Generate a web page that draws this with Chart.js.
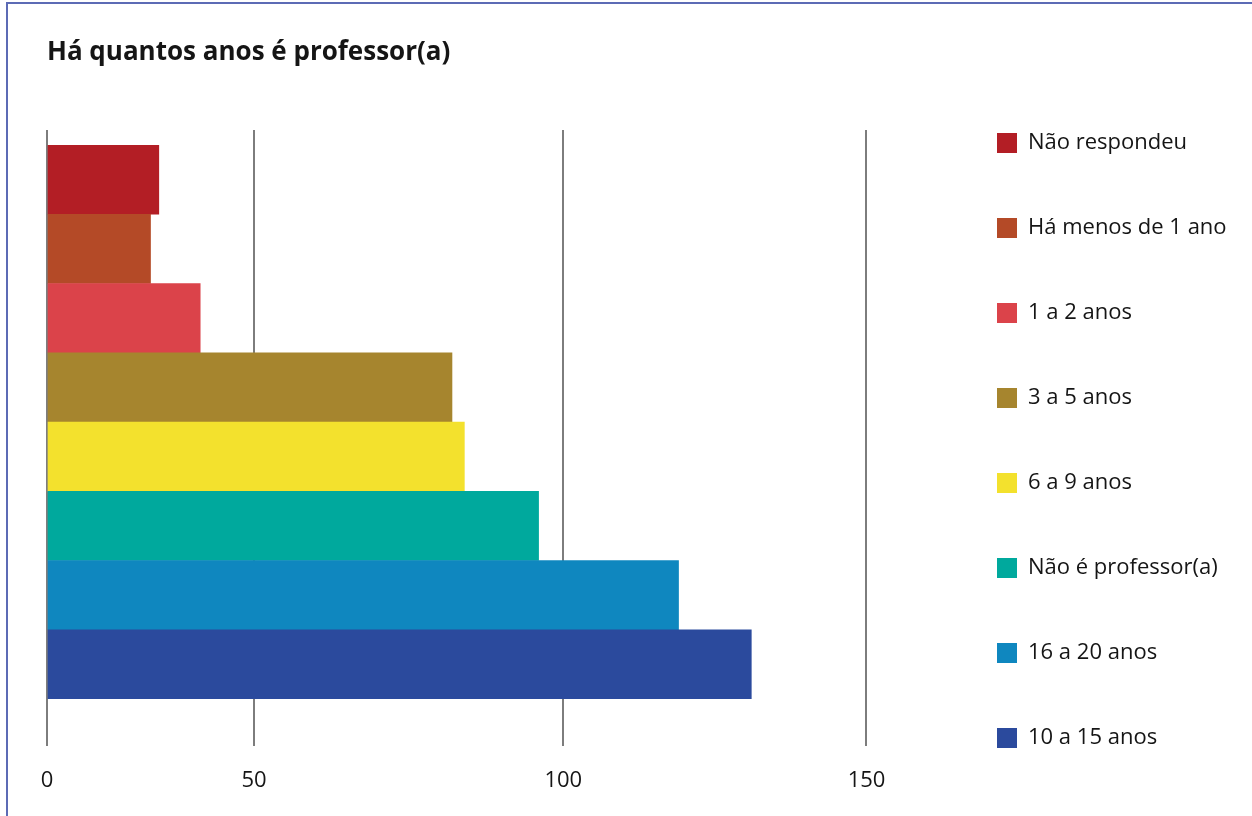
<!DOCTYPE html>
<html lang="pt">
<head>
<meta charset="utf-8">
<title>Há quantos anos é professor(a)</title>
<script src="https://cdn.jsdelivr.net/npm/chart.js@4.4.1/dist/chart.umd.min.js"></script>
<style>
    html, body {
        margin: 0;
        padding: 0;
        overflow: hidden;
        background: #fff;
    }

    .frame {
        position: absolute;
        left: 6px;
        top: 2px;
        width: 1300px;
        height: 900px;
        border: 2px solid #5c6bb5;
    }

    .chart-box {
        position: absolute;
        left: 0;
        top: 0;
        width: 1252px;
        height: 816px;
    }
</style>
</head>
<body>
<div class="frame"></div>
<div class="chart-box"><canvas id="years-chart"></canvas></div>
<script>
const categories = [
    'Não respondeu',
    'Há menos de 1 ano',
    '1 a 2 anos',
    '3 a 5 anos',
    '6 a 9 anos',
    'Não é professor(a)',
    '16 a 20 anos',
    '10 a 15 anos',
];
const counts = [27, 25, 37, 82, 84, 96, 119, 131];
const barColors = ['#b31e25', '#b44a27', '#db434a', '#a6852e', '#f3e12d', '#00a99d', '#0f87bf', '#2b4a9d'];
const tickValues = [0, 50, 100, 150];

// the original axis is not evenly spaced: value -> fraction of the plot width
const axisStops = [[0, 0], [50, 0.2334], [100, 0.5821], [150, 0.9239], [161, 1]];
const axisMax = 161;

const FONT = '"Open Sans", sans-serif';
const GRID_COLOR = '#7d7d7d';
const TEXT_COLOR = '#151515';
const LEGEND_WIDTH = 318;

class StretchedScale extends Chart.LinearScale {
    getPixelForValue(value) {
        const last = axisStops[axisStops.length - 1];
        let frac = last[1];

        if (value <= axisStops[0][0]) {
            frac = axisStops[0][1];
        } else {
            for (let i = 1; i < axisStops.length; i++) {
                const [v0, f0] = axisStops[i - 1];
                const [v1, f1] = axisStops[i];
                if (value <= v1) {
                    frac = f0 + (value - v0) / (v1 - v0) * (f1 - f0);
                    break;
                }
            }
        }

        return this.getPixelForDecimal(frac);
    }

    getValueForPixel(pixel) {
        const frac = this.getDecimalForPixel(pixel);
        for (let i = 1; i < axisStops.length; i++) {
            const [v0, f0] = axisStops[i - 1];
            const [v1, f1] = axisStops[i];
            if (frac <= f1) {
                return v0 + (frac - f0) / (f1 - f0) * (v1 - v0);
            }
        }
        return axisStops[axisStops.length - 1][0];
    }
}
StretchedScale.id = 'stretched';
StretchedScale.defaults = {};
Chart.register(StretchedScale);

// keep the legend column a fixed width so the plot ends where the original does
const fixedLegendWidth = {
    id: 'fixedLegendWidth',
    beforeUpdate(chart) {
        const legend = chart.legend;
        if (!legend || legend._fixedWidth) {
            return;
        }
        const fit = legend.fit;
        legend.fit = function () {
            fit.call(this);
            this.width = LEGEND_WIDTH;
        };
        legend._fixedWidth = true;
    },
};

function setTicks(scale) {
    scale.ticks = tickValues.map((value) => ({ value }));
}

function createYearsChart(canvas) {
    return new Chart(canvas, {
        type: 'bar',
        data: {
            labels: categories,
            datasets: [
                {
                    data: counts,
                    backgroundColor: barColors,
                    borderWidth: 0,
                    barPercentage: 1,
                    categoryPercentage: 1,
                    xAxisID: 'x',
                    yAxisID: 'y',
                },
            ],
        },
        plugins: [fixedLegendWidth],
        options: {
            indexAxis: 'y',
            responsive: true,
            maintainAspectRatio: false,
            animation: false,
            layout: {
                padding: { left: 47, right: 0, top: 0, bottom: 0 },
            },
            plugins: {
                title: {
                    display: true,
                    text: 'Há quantos anos é professor(a)',
                    align: 'start',
                    color: TEXT_COLOR,
                    font: { family: FONT, size: 26, weight: 'bold' },
                    padding: { top: 37.4, bottom: 61.4 },
                },
                legend: {
                    position: 'right',
                    align: 'start',
                    title: {
                        display: true,
                        text: ' ',
                        font: { size: 8, lineHeight: 1 },
                        padding: { top: 61, bottom: 0 },
                    },
                    labels: {
                        boxWidth: 20,
                        boxHeight: 20,
                        padding: 63,
                        color: TEXT_COLOR,
                        font: { family: FONT, size: 22 },
                        generateLabels(chart) {
                            const colors = chart.data.datasets[0].backgroundColor;
                            return chart.data.labels.map((label, i) => ({
                                text: label,
                                fillStyle: colors[i],
                                strokeStyle: colors[i],
                                fontColor: TEXT_COLOR,
                                lineWidth: 0,
                                hidden: false,
                                index: i,
                            }));
                        },
                    },
                },
                tooltip: {
                    enabled: false,
                },
            },
            scales: {
                x: {
                    type: 'stretched',
                    position: 'bottom',
                    min: 0,
                    max: axisMax,
                    afterBuildTicks: setTicks,
                    border: { display: false },
                    grid: {
                        color: GRID_COLOR,
                        lineWidth: 2,
                        drawTicks: true,
                        tickLength: 47,
                    },
                    ticks: {
                        color: TEXT_COLOR,
                        padding: 0,
                        maxRotation: 0,
                        font: { family: FONT, size: 22, lineHeight: '70px' },
                    },
                },
                xTop: {
                    type: 'stretched',
                    position: 'top',
                    min: 0,
                    max: axisMax,
                    afterBuildTicks: setTicks,
                    border: { display: false },
                    grid: {
                        color: GRID_COLOR,
                        lineWidth: 2,
                        drawOnChartArea: false,
                        drawTicks: true,
                        tickLength: 15,
                    },
                    ticks: { display: false },
                },
                y: {
                    type: 'category',
                    display: false,
                },
            },
        },
    });
}

createYearsChart(document.getElementById('years-chart'));
</script>
</body>
</html>
